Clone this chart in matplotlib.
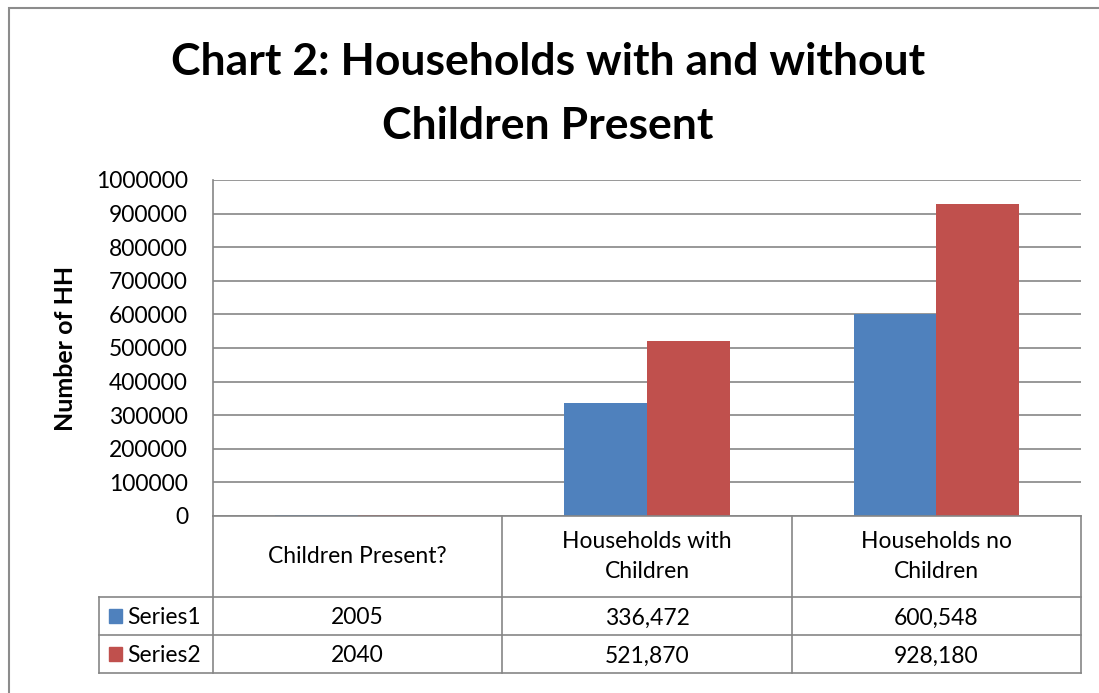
import matplotlib.pyplot as plt
from matplotlib.patches import Rectangle

categories = ["Children Present?", "Households with\nChildren", "Households no\nChildren"]
series_names = ["Series1", "Series2"]
series1 = [2005, 336472, 600548]
series2 = [2040, 521870, 928180]
colors = ["#4F81BD", "#C0504D"]
yticks = list(range(0, 1000001, 100000))

W, H = 1099, 693
plt.rcParams["font.family"] = ["Lato", "DejaVu Sans"]
fig = plt.figure(figsize=(W / 100, H / 100), dpi=100)

# pixel -> figure fraction helpers
def fx(x):
    return x / W

def fy(y):
    return 1 - y / H

grid_c = "#868686"
left, right, top, bottom = 213, 1081, 180, 516
ax = fig.add_axes([fx(left), fy(bottom), fx(right - left), (bottom - top) / H])

n = len(categories)
width = 1 / 3.5
xs = list(range(n))
ax.bar([x - width / 2 for x in xs], series1, width, color=colors[0], zorder=3)
ax.bar([x + width / 2 for x in xs], series2, width, color=colors[1], zorder=3)

ax.set_xlim(-0.5, n - 0.5)
ax.set_ylim(0, 1000000)
ax.set_yticks(yticks)
ax.set_yticklabels([str(v) for v in yticks], fontsize=16.5)
ax.tick_params(axis="y", length=0, pad=18)
ax.set_xticks([])
ax.grid(axis="y", color=grid_c, linewidth=1.2, zorder=0)
for side in ["top", "right", "bottom"]:
    ax.spines[side].set_visible(False)
ax.spines["left"].set_color(grid_c)
ax.spines["left"].set_linewidth(1.2)

ax.set_ylabel("Number of HH", fontsize=18, fontweight="bold", labelpad=14)

fig.text(fx(548), fy(94), "Chart 2: Households with and without\nChildren Present",
         ha="center", va="center", fontsize=32, fontweight="bold", linespacing=1.75)

# outer frame
fig.add_artist(Rectangle((fx(9), -0.1), 1.2, fy(8) + 0.1, transform=fig.transFigure,
                         fill=False, edgecolor="#8c8c8c", linewidth=1.5))

# data table under the axis
col_x = [left, 502, 792, right]
row_y = [bottom, 597, 635, 673]
leg_x = 99
lw = 1.2

def hline(x0, x1, y):
    fig.add_artist(plt.Line2D([fx(x0), fx(x1)], [fy(y), fy(y)], color=grid_c, lw=lw))

def vline(x, y0, y1):
    fig.add_artist(plt.Line2D([fx(x), fx(x)], [fy(y0), fy(y1)], color=grid_c, lw=lw))

hline(left, right, bottom)
for y in row_y[1:]:
    hline(leg_x, right, y)
for x in col_x:
    vline(x, bottom, row_y[-1])
vline(leg_x, row_y[1], row_y[-1])

def fmt(v):
    return f"{v:,}" if v >= 10000 else str(v)

fs = 16.5
for i, cat in enumerate(categories):
    cx = (col_x[i] + col_x[i + 1]) / 2
    fig.text(fx(cx), fy((row_y[0] + row_y[1]) / 2), cat, ha="center", va="center",
             fontsize=fs, linespacing=1.5)
    for r, vals in enumerate([series1, series2]):
        cy = (row_y[r + 1] + row_y[r + 2]) / 2
        fig.text(fx(cx), fy(cy + 2), fmt(vals[i]), ha="center", va="center", fontsize=fs)

for r, name in enumerate(series_names):
    cy = (row_y[r + 1] + row_y[r + 2]) / 2
    fig.add_artist(Rectangle((fx(109), fy(cy + 7)), fx(13), 14 / H,
                             transform=fig.transFigure, color=colors[r]))
    fig.text(fx(127), fy(cy + 1), name, ha="left", va="center", fontsize=fs)

fig.savefig("out.png", dpi=100)
